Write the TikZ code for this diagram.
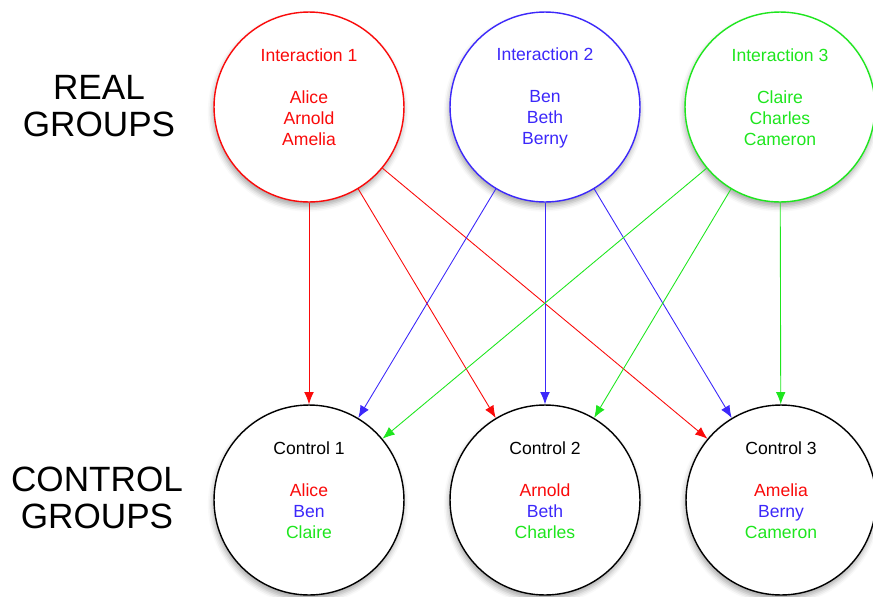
\documentclass[tikz,border=0pt]{standalone}
\usepackage{fontspec}
\setmainfont{Liberation Sans}
\usepackage{tikz}
\usetikzlibrary{arrows.meta,shadows.blur}
\definecolor{grpred}{RGB}{250,10,10}
\definecolor{grpblue}{RGB}{60,40,250}
\definecolor{grpgreen}{RGB}{30,230,30}

\begin{document}
\begin{tikzpicture}[x=0.02cm,y=-0.02cm,
    grp/.style={circle,draw,fill=white,line width=0.8pt,minimum size=3.8cm,inner sep=0pt,
      blur shadow={shadow xshift=-0.5pt,shadow yshift=-2.5pt,shadow blur radius=3pt,shadow opacity=35}},
    members/.style={align=center,font=\fontsize{10}{11.9}\selectfont},
    side/.style={align=center,font=\fontsize{20}{21}\selectfont},
    link/.style={line width=0.5pt,-{Latex[length=7pt,width=5.5pt]}}]
  \useasboundingbox (0,0) rectangle (873,596);
  % real groups
  \node[side](real)at(99,106){REAL\\GROUPS};
  \node[grp,draw=grpred](i1)at(309,107){};
  \node[grp,draw=grpblue](i2)at(545,107){};
  \node[grp,draw=grpgreen](i3)at(780,107){};
  \node[members,grpred](t1)at(309,97){Interaction 1\\[11.9pt]Alice\\Arnold\\Amelia};
  \node[members,grpblue](t2)at(545,98){Interaction 2\\[11.9pt]Ben\\Beth\\Berny};
  \node[members,grpgreen](t3)at(780,97){Interaction 3\\[11.9pt]Claire\\Charles\\Cameron};
  % control groups
  \node[side](control)at(97,498){CONTROL\\GROUPS};
  \node[grp](c1)at(309,500){};
  \node[grp](c2)at(545,500){};
  \node[grp](c3)at(781,500){};
  \node[members](s1)at(309,490){Control 1\\[11.9pt]\textcolor{grpred}{Alice}\\\textcolor{grpblue}{Ben}\\\textcolor{grpgreen}{Claire}};
  \node[members](s2)at(545,490){Control 2\\[11.9pt]\textcolor{grpred}{Arnold}\\\textcolor{grpblue}{Beth}\\\textcolor{grpgreen}{Charles}};
  \node[members](s3)at(781,490){Control 3\\[11.9pt]\textcolor{grpred}{Amelia}\\\textcolor{grpblue}{Berny}\\\textcolor{grpgreen}{Cameron}};
  % who goes where
  \draw[link,grpred](i1)--(c1);
  \draw[link,grpred](i1)--(c2);
  \draw[link,grpred](i1)--(c3);
  \draw[link,grpblue](i2)--(c1);
  \draw[link,grpblue](i2)--(c2);
  \draw[link,grpblue](i2)--(c3);
  \draw[link,grpgreen](i3)--(c1);
  \draw[link,grpgreen](i3)--(c2);
  \draw[link,grpgreen](i3)--(c3);
\end{tikzpicture}
\end{document}
